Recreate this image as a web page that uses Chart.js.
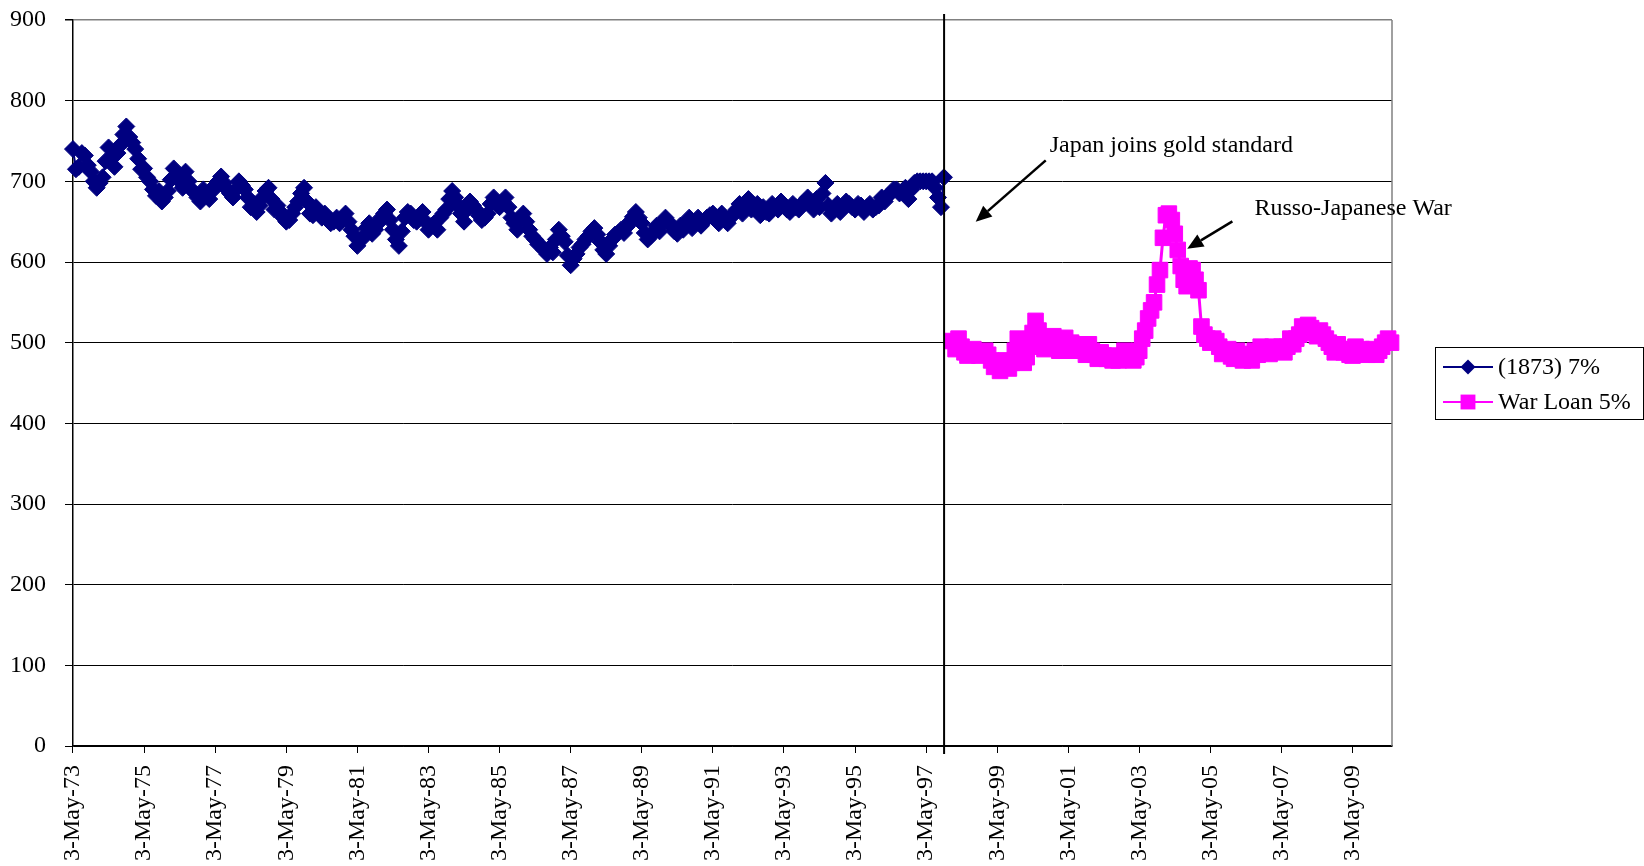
<!DOCTYPE html>
<html>
<head>
<meta charset="utf-8">
<script src="https://cdn.jsdelivr.net/npm/chart.js@4.4.0/dist/chart.umd.min.js"></script>
<style>
  html, body { margin: 0; padding: 0; background: #fff; }
  #wrap { width: 1644px; height: 866px; position: relative; }
</style>
</head>
<body>
<div id="wrap"><canvas id="myChart"></canvas></div>
<script>
// x tick labels, one every two years
const tickLabels = [
  '3-May-73', '3-May-75', '3-May-77', '3-May-79', '3-May-81', '3-May-83', '3-May-85',
  '3-May-87', '3-May-89', '3-May-91', '3-May-93', '3-May-95', '3-May-97', '3-May-99',
  '3-May-01', '3-May-03', '3-May-05', '3-May-07', '3-May-09'
]
const yTicks = [0, 100, 200, 300, 400, 500, 600, 700, 800, 900]

// monthly readings
const bond1873Start = 1873.336
const warLoanStart = 1898.08
const stepYears = 1 / 12

const bond1873 = [
  740, 715, 718, 735, 732, 720, 712, 700, 692, 698,
  705, 725, 742, 730, 718, 735, 745, 758, 768, 755,
  748, 740, 728, 715, 716, 705, 700, 690, 682, 688,
  675, 680, 688, 702, 716, 705, 700, 692, 712, 700,
  690, 686, 680, 675, 690, 682, 678, 688, 695, 700,
  706, 698, 690, 685, 680, 690, 700, 695, 690, 680,
  668, 672, 662, 670, 680, 688, 692, 678, 665, 670,
  662, 655, 650, 652, 660, 668, 675, 685, 692, 675,
  660, 658, 668, 662, 655, 660, 652, 648, 650, 655,
  648, 652, 660, 650, 640, 632, 620, 628, 630, 642,
  648, 635, 640, 648, 655, 660, 665, 652, 640, 628,
  620, 638, 655, 662, 660, 652, 650, 656, 662, 650,
  640, 645, 648, 640, 655, 660, 665, 678, 688, 680,
  670, 660, 650, 665, 675, 670, 665, 658, 652, 655,
  660, 672, 680, 674, 668, 675, 680, 668, 655, 648,
  640, 652, 660, 650, 640, 632, 628, 622, 620, 615,
  610, 618, 612, 628, 640, 632, 625, 608, 596, 604,
  610, 618, 622, 628, 632, 638, 642, 634, 625, 615,
  610, 620, 628, 634, 636, 640, 636, 644, 650, 656,
  662, 655, 648, 636, 628, 632, 638, 645, 638, 648,
  655, 650, 645, 638, 635, 645, 640, 648, 655, 642,
  650, 655, 645, 650, 655, 658, 660, 652, 648, 660,
  652, 648, 655, 660, 665, 672, 660, 668, 678, 665,
  670, 672, 658, 668, 662, 660, 672, 668, 665, 675,
  670, 665, 662, 672, 668, 665, 672, 675, 680, 672,
  665, 678, 668, 685, 698, 670, 660, 665, 672, 662,
  668, 675, 672, 668, 665, 672, 670, 662, 668, 672,
  665, 668, 670, 680, 675, 682, 685, 690, 690, 685,
  688, 692, 678, 690, 698, 700, 700, 700, 700, 700,
  700, 692, 680, 668, 705
]

const warLoan = [
  502, 492, 505, 495, 488, 484, 490, 492, 485, 484,
  488, 490, 485, 478, 470, 475, 465, 470, 478, 468,
  475, 490, 505, 490, 475, 482, 495, 512, 527, 515,
  500, 492, 505, 500, 508, 498, 490, 498, 506, 495,
  500, 490, 495, 498, 490, 485, 498, 490, 485, 480,
  488, 484, 480, 484, 478, 483, 478, 480, 490, 486,
  480, 478, 482, 490, 505, 515, 530, 540, 550, 572,
  590, 630, 658, 660, 652, 635, 615, 595, 578, 570,
  592, 590, 578, 565, 520, 510, 505, 500, 505, 502,
  495, 486, 490, 492, 483, 480, 490, 486, 478, 485,
  482, 478, 490, 485, 495, 492, 488, 486, 495, 490,
  492, 495, 488, 495, 505, 498, 505, 510, 520, 515,
  522, 518, 512, 508, 515, 510, 505, 500, 495, 488,
  498, 492, 488, 492, 485, 484, 495, 488, 492, 490,
  485, 488, 492, 485, 490, 495, 500, 505, 500
]

const goldStandardYear = 1897.84
const notes = [
  { text: 'Japan joins gold standard', at: [1900.81, 744], from: [1900.70, 726], to: [1898.73, 650] },
  { text: 'Russo-Japanese War', at: [1906.57, 666], from: [1905.95, 650.3], to: [1904.68, 616.5] }
]

const FONT = "'Liberation Serif', 'Times New Roman', serif"

function labelYear (label) {
  const yy = parseInt(label.slice(-2))
  return (yy >= 70 ? 1800 : 1900) + yy + 122 / 365
}

function toPoints (start, values) {
  return values.map((v, i) => ({ x: start + i * stepYears, y: v }))
}

function markerPath (ctx, style, x, y, r) {
  ctx.beginPath()
  if (style === 'rectRot') {
    ctx.moveTo(x - r, y)
    ctx.lineTo(x, y - r)
    ctx.lineTo(x + r, y)
    ctx.lineTo(x, y + r)
  } else {
    const s = r * Math.SQRT1_2
    ctx.rect(x - s, y - s, 2 * s, 2 * s)
  }
  ctx.closePath()
}

const extras = {
  id: 'extras',
  beforeDatasetsDraw: chart => {
    const ctx = chart.ctx
    const { top, bottom, right } = chart.chartArea
    ctx.save()
    ctx.strokeStyle = '#808080'
    ctx.lineWidth = 1.5
    ctx.beginPath()
    ctx.moveTo(right, top)
    ctx.lineTo(right, bottom)
    ctx.stroke()
    ctx.restore()
  },
  afterDatasetsDraw: chart => {
    const ctx = chart.ctx
    const xs = chart.scales.x
    const ys = chart.scales.y
    const { top, bottom, right } = chart.chartArea
    ctx.save()

    // gold standard line
    const gx = xs.getPixelForValue(goldStandardYear)
    ctx.strokeStyle = '#000'
    ctx.lineWidth = 2
    ctx.beginPath()
    ctx.moveTo(gx, top - 6)
    ctx.lineTo(gx, bottom + 8)
    ctx.stroke()

    // notes with arrows
    ctx.font = '24px ' + FONT
    ctx.fillStyle = '#000'
    ctx.textAlign = 'left'
    ctx.textBaseline = 'middle'
    notes.forEach(n => {
      ctx.fillText(n.text, xs.getPixelForValue(n.at[0]), ys.getPixelForValue(n.at[1]))
      const x1 = xs.getPixelForValue(n.from[0])
      const y1 = ys.getPixelForValue(n.from[1])
      const x2 = xs.getPixelForValue(n.to[0])
      const y2 = ys.getPixelForValue(n.to[1])
      const a = Math.atan2(y2 - y1, x2 - x1)
      const len = 16
      const wid = 7
      const bx = x2 - len * Math.cos(a)
      const by = y2 - len * Math.sin(a)
      ctx.lineWidth = 2.5
      ctx.beginPath()
      ctx.moveTo(x1, y1)
      ctx.lineTo(bx, by)
      ctx.stroke()
      ctx.beginPath()
      ctx.moveTo(x2, y2)
      ctx.lineTo(bx + wid * Math.sin(a), by - wid * Math.cos(a))
      ctx.lineTo(bx - wid * Math.sin(a), by + wid * Math.cos(a))
      ctx.closePath()
      ctx.fill()
    })

    // legend box
    const lx = right + 43
    const lw = 208
    const lh = 72
    const ly = (top + bottom) / 2 - lh / 2
    const legendRadius = { rectRot: 7.5, rect: 10.5 }
    ctx.strokeStyle = '#000'
    ctx.lineWidth = 1
    ctx.strokeRect(lx + 0.5, ly + 0.5, lw, lh)
    chart.data.datasets.forEach((ds, i) => {
      const cy = ly + 20 + i * 35
      ctx.strokeStyle = ds.borderColor
      ctx.lineWidth = 2
      ctx.beginPath()
      ctx.moveTo(lx + 8, cy)
      ctx.lineTo(lx + 58, cy)
      ctx.stroke()
      ctx.fillStyle = ds.pointBackgroundColor
      markerPath(ctx, ds.pointStyle, lx + 33, cy, legendRadius[ds.pointStyle])
      ctx.fill()
      ctx.fillStyle = '#000'
      ctx.fillText(ds.label, lx + 63, cy + 1)
    })
    ctx.restore()
  }
}

const config = {
  type: 'line',
  data: {
    datasets: [
      {
        label: '(1873) 7%',
        data: toPoints(bond1873Start, bond1873),
        borderColor: '#000080',
        backgroundColor: '#000080',
        pointBackgroundColor: '#000080',
        pointBorderColor: '#000080',
        pointStyle: 'rectRot',
        pointRadius: 8.5,
        pointBorderWidth: 1,
        borderWidth: 2,
        tension: 0,
        clip: false
      },
      {
        label: 'War Loan 5%',
        data: toPoints(warLoanStart, warLoan),
        borderColor: '#FF00FF',
        backgroundColor: '#FF00FF',
        pointBackgroundColor: '#FF00FF',
        pointBorderColor: '#FF00FF',
        pointStyle: 'rect',
        pointRadius: 11,
        pointBorderWidth: 1,
        borderWidth: 3,
        tension: 0,
        clip: false
      }
    ]
  },
  plugins: [extras],
  options: {
    responsive: true,
    maintainAspectRatio: false,
    animation: false,
    events: [],
    layout: { autoPadding: false, padding: { top: 20, right: 252, bottom: 0, left: 0 } },
    plugins: {
      legend: { display: false },
      tooltip: { enabled: false }
    },
    scales: {
      x: {
        type: 'linear',
        min: bond1873Start,
        max: 1910.44,
        afterBuildTicks: scale => {
          scale.ticks = tickLabels.map(l => ({ value: labelYear(l) }))
        },
        afterFit: scale => {
          scale.height = 120
          scale.paddingLeft = 0
          scale.paddingRight = 0
        },
        ticks: {
          autoSkip: false,
          minRotation: 90,
          maxRotation: 90,
          padding: 12,
          color: '#000',
          font: { family: FONT, size: 24 },
          callback: (value, index) => tickLabels[index]
        },
        grid: {
          drawOnChartArea: false,
          drawTicks: true,
          tickLength: 7,
          tickColor: '#000',
          tickWidth: 1
        },
        border: { color: '#000', width: 1.5 }
      },
      y: {
        min: 0,
        max: 900,
        afterBuildTicks: scale => {
          scale.ticks = yTicks.map(v => ({ value: v }))
        },
        afterFit: scale => {
          scale.width = 73
          scale.paddingTop = 0
          scale.paddingBottom = 0
        },
        ticks: {
          padding: 19,
          color: '#000',
          font: { family: FONT, size: 24 }
        },
        grid: {
          color: ctx => (ctx.tick && ctx.tick.value === 900 ? '#808080' : '#000'),
          lineWidth: ctx => (ctx.tick && ctx.tick.value === 900 ? 1.5 : 1),
          tickLength: 8,
          tickColor: '#000'
        },
        border: { color: '#000', width: 1.5 }
      }
    }
  }
}

const chart = new Chart(document.getElementById('myChart'), config)
</script>
</body>
</html>
